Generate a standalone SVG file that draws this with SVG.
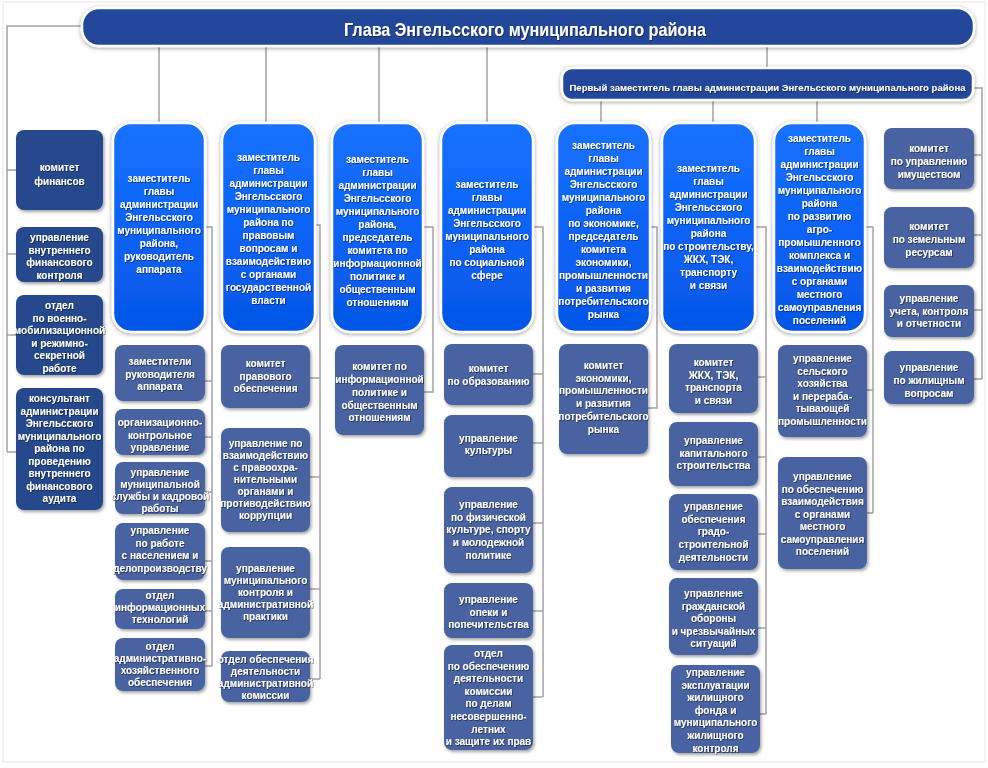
<svg xmlns="http://www.w3.org/2000/svg" width="988" height="768" viewBox="0 0 988 768">
<defs>
<linearGradient id="gBlue" x1="0" y1="0" x2="0" y2="1">
<stop offset="0" stop-color="#1a72ff"/>
<stop offset="0.5" stop-color="#0a63f6"/>
<stop offset="1" stop-color="#0556e6"/>
</linearGradient>
<filter id="sh" x="-20%" y="-20%" width="140%" height="140%">
<feDropShadow dx="1.5" dy="2" stdDeviation="1.8" flood-color="#000" flood-opacity="0.35"/>
</filter>
<filter id="glow" x="-20%" y="-20%" width="140%" height="140%">
<feDropShadow dx="0" dy="1" stdDeviation="2" flood-color="#000" flood-opacity="0.4"/>
</filter>
<filter id="ts" x="-10%" y="-10%" width="120%" height="130%">
<feDropShadow dx="0.8" dy="0.8" stdDeviation="0.6" flood-color="#000" flood-opacity="0.55"/>
</filter>
</defs>
<style>
.frame{fill:#ffffff;stroke:#e8e8e8;stroke-width:1}
.con{fill:none;stroke:#a3a3a3;stroke-width:1.5}
.head{fill:#21479b;stroke:#ffffff;stroke-width:2.5;filter:url(#glow)}
.dep{fill:url(#gBlue);stroke:#ffffff;stroke-width:2.5;filter:url(#glow)}
.sub{fill:#4a64a2;filter:url(#sh)}
.dark{fill:#26498e;filter:url(#sh)}
text{font-family:"Liberation Sans",Arial,sans-serif;font-weight:bold;fill:#ffffff;text-anchor:middle;filter:url(#ts)}
.t{font-size:10px}
.title{font-size:19px}
.fd{font-size:9.6px}
</style>
<rect class="frame" x="3" y="2" width="982" height="760"/>

<g id="connectors">
<path class="con" d="M82,26 H7 V452 M7,170 H16 M7,254 H16 M7,335 H16 M7,452 H16"/>
<path class="con" d="M159,46 V123 M266,46 V123 M379,46 V123 M487,46 V123 M767,46 V68"/>
<path class="con" d="M601,100 V123 M713,100 V123 M817,100 V123"/>
<path class="con" d="M973,88 H982 V379 M982,155 H974 M982,235 H974 M982,310 H974 M982,379 H974"/>
<path class="con" d="M205,227 H212 V666 M212,381 H205 M212,437 H205 M212,492 H205 M212,561 H205 M212,611 H205 M212,666 H205"/>
<path class="con" d="M315,225 H320 V679 M320,378 H310 M320,477 H310 M320,589 H310 M320,679 H310"/>
<path class="con" d="M423,227 H433 V392 H424"/>
<path class="con" d="M533,227 H543 V697 M543,374 H533 M543,443 H533 M543,523 H533 M543,611 H533 M543,697 H533"/>
<path class="con" d="M650,227 H657 V408 H648"/>
<path class="con" d="M755,227 H766 V714 M766,377 H758 M766,457 H758 M766,534 H758 M766,628 H758 M766,714 H760"/>
<path class="con" d="M865,227 H873 V513 M873,390 H867 M873,513 H867"/>
</g>

<g id="head">
<rect class="head" x="82" y="8" width="892" height="38" rx="17"/>
<text class="title" x="525" y="36" textLength="362" lengthAdjust="spacingAndGlyphs">Глава Энгельсского муниципального района</text>
</g>

<g id="first-deputy">
<rect class="head" x="562" y="68" width="411" height="32" rx="10"/>
<text class="fd" x="767.5" y="91" textLength="396" lengthAdjust="spacingAndGlyphs">Первый заместитель главы администрации Энгельсского муниципального района</text>
</g>

<!-- deputies -->
<g id="dep1">
<rect class="dep" x="113" y="123" width="92" height="209" rx="18"/>
<text class="t"><tspan x="159" y="182">заместитель</tspan><tspan x="159" y="195">главы</tspan><tspan x="159" y="208">администрации</tspan><tspan x="159" y="221">Энгельсского</tspan><tspan x="159" y="234">муниципального</tspan><tspan x="159" y="247">района,</tspan><tspan x="159" y="260">руководитель</tspan><tspan x="159" y="273">аппарата</tspan></text>
</g>
<g id="dep2">
<rect class="dep" x="222" y="123" width="93" height="209" rx="18"/>
<text class="t"><tspan x="268.5" y="161">заместитель</tspan><tspan x="268.5" y="174">главы</tspan><tspan x="268.5" y="187">администрации</tspan><tspan x="268.5" y="200">Энгельсского</tspan><tspan x="268.5" y="213">муниципального</tspan><tspan x="268.5" y="226">района по</tspan><tspan x="268.5" y="239">правовым</tspan><tspan x="268.5" y="252">вопросам и</tspan><tspan x="268.5" y="265">взаимодействию</tspan><tspan x="268.5" y="278">с органами</tspan><tspan x="268.5" y="291">государственной</tspan><tspan x="268.5" y="304">власти</tspan></text>
</g>
<g id="dep3">
<rect class="dep" x="332" y="123" width="91" height="209" rx="18"/>
<text class="t"><tspan x="377.5" y="163">заместитель</tspan><tspan x="377.5" y="176">главы</tspan><tspan x="377.5" y="189">администрации</tspan><tspan x="377.5" y="202">Энгельсского</tspan><tspan x="377.5" y="215">муниципального</tspan><tspan x="377.5" y="228">района,</tspan><tspan x="377.5" y="241">председатель</tspan><tspan x="377.5" y="254">комитета по</tspan><tspan x="377.5" y="267">информационной</tspan><tspan x="377.5" y="280">политике и</tspan><tspan x="377.5" y="293">общественным</tspan><tspan x="377.5" y="306">отношениям</tspan></text>
</g>
<g id="dep4">
<rect class="dep" x="441" y="123" width="92" height="209" rx="18"/>
<text class="t"><tspan x="487" y="188">заместитель</tspan><tspan x="487" y="201">главы</tspan><tspan x="487" y="214">администрации</tspan><tspan x="487" y="227">Энгельсского</tspan><tspan x="487" y="240">муниципального</tspan><tspan x="487" y="253">района</tspan><tspan x="487" y="266">по социальной</tspan><tspan x="487" y="279">сфере</tspan></text>
</g>
<g id="dep5">
<rect class="dep" x="557" y="123" width="93" height="209" rx="18"/>
<text class="t"><tspan x="603.5" y="149">заместитель</tspan><tspan x="603.5" y="162">главы</tspan><tspan x="603.5" y="175">администрации</tspan><tspan x="603.5" y="188">Энгельсского</tspan><tspan x="603.5" y="201">муниципального</tspan><tspan x="603.5" y="214">района</tspan><tspan x="603.5" y="227">по экономике,</tspan><tspan x="603.5" y="240">председатель</tspan><tspan x="603.5" y="253">комитета</tspan><tspan x="603.5" y="266">экономики,</tspan><tspan x="603.5" y="279">промышленности</tspan><tspan x="603.5" y="292">и развития</tspan><tspan x="603.5" y="305">потребительского</tspan><tspan x="603.5" y="318">рынка</tspan></text>
</g>
<g id="dep6">
<rect class="dep" x="662" y="123" width="93" height="209" rx="18"/>
<text class="t"><tspan x="708.5" y="172">заместитель</tspan><tspan x="708.5" y="185">главы</tspan><tspan x="708.5" y="198">администрации</tspan><tspan x="708.5" y="211">Энгельсского</tspan><tspan x="708.5" y="224">муниципального</tspan><tspan x="708.5" y="237">района</tspan><tspan x="708.5" y="250">по строительству,</tspan><tspan x="708.5" y="263">ЖКХ, ТЭК,</tspan><tspan x="708.5" y="276">транспорту</tspan><tspan x="708.5" y="289">и связи</tspan></text>
</g>
<g id="dep7">
<rect class="dep" x="774" y="123" width="91" height="209" rx="18"/>
<text class="t"><tspan x="819.5" y="142">заместитель</tspan><tspan x="819.5" y="155">главы</tspan><tspan x="819.5" y="168">администрации</tspan><tspan x="819.5" y="181">Энгельсского</tspan><tspan x="819.5" y="194">муниципального</tspan><tspan x="819.5" y="207">района</tspan><tspan x="819.5" y="220">по развитию</tspan><tspan x="819.5" y="233">агро-</tspan><tspan x="819.5" y="246">промышленного</tspan><tspan x="819.5" y="259">комплекса и</tspan><tspan x="819.5" y="272">взаимодействию</tspan><tspan x="819.5" y="285">с органами</tspan><tspan x="819.5" y="298">местного</tspan><tspan x="819.5" y="311">самоуправления</tspan><tspan x="819.5" y="324">поселений</tspan></text>
</g>

<!-- left column -->
<g id="l1">
<rect class="dark" x="16" y="130" width="87" height="80" rx="8"/>
<text class="t"><tspan x="59.5" y="171">комитет</tspan><tspan x="59.5" y="185">финансов</tspan></text>
</g>
<g id="l2">
<rect class="dark" x="16" y="227" width="87" height="55" rx="8"/>
<text class="t"><tspan x="59.5" y="241">управление</tspan><tspan x="59.5" y="253.5">внутреннего</tspan><tspan x="59.5" y="266">финансового</tspan><tspan x="59.5" y="278.5">контроля</tspan></text>
</g>
<g id="l3">
<rect class="dark" x="16" y="295" width="87" height="80" rx="8"/>
<text class="t"><tspan x="59.5" y="309">отдел</tspan><tspan x="59.5" y="321.5">по военно-</tspan><tspan x="59.5" y="334">мобилизационной</tspan><tspan x="59.5" y="346.5">и режимно-</tspan><tspan x="59.5" y="359">секретной</tspan><tspan x="59.5" y="371.5">работе</tspan></text>
</g>
<g id="l4">
<rect class="dark" x="16" y="388" width="87" height="122" rx="8"/>
<text class="t"><tspan x="59.5" y="402">консультант</tspan><tspan x="59.5" y="414.5">администрации</tspan><tspan x="59.5" y="427">Энгельсского</tspan><tspan x="59.5" y="439.5">муниципального</tspan><tspan x="59.5" y="452">района по</tspan><tspan x="59.5" y="464.5">проведению</tspan><tspan x="59.5" y="477">внутреннего</tspan><tspan x="59.5" y="489.5">финансового</tspan><tspan x="59.5" y="502">аудита</tspan></text>
</g>

<!-- column 1 subs -->
<g id="c1a">
<rect class="sub" x="115" y="345" width="90" height="56" rx="8"/>
<text class="t"><tspan x="160" y="365">заместители</tspan><tspan x="160" y="377.5">руководителя</tspan><tspan x="160" y="390">аппарата</tspan></text>
</g>
<g id="c1b">
<rect class="sub" x="115" y="409" width="90" height="46" rx="8"/>
<text class="t"><tspan x="160" y="426">организационно-</tspan><tspan x="160" y="438.5">контрольное</tspan><tspan x="160" y="451">управление</tspan></text>
</g>
<g id="c1c">
<rect class="sub" x="115" y="462" width="90" height="52" rx="8"/>
<text class="t"><tspan x="160" y="476">управление</tspan><tspan x="160" y="488">муниципальной</tspan><tspan x="160" y="500">службы и кадровой</tspan><tspan x="160" y="512">работы</tspan></text>
</g>
<g id="c1d">
<rect class="sub" x="115" y="523" width="90" height="57" rx="8"/>
<text class="t"><tspan x="160" y="534">управление</tspan><tspan x="160" y="546.5">по работе</tspan><tspan x="160" y="559">с населением и</tspan><tspan x="160" y="571.5">делопроизводству</tspan></text>
</g>
<g id="c1e">
<rect class="sub" x="115" y="589" width="90" height="40" rx="8"/>
<text class="t"><tspan x="160" y="599">отдел</tspan><tspan x="160" y="611">информационных</tspan><tspan x="160" y="623">технологий</tspan></text>
</g>
<g id="c1f">
<rect class="sub" x="115" y="638" width="90" height="53" rx="8"/>
<text class="t"><tspan x="160" y="650">отдел</tspan><tspan x="160" y="662">административно-</tspan><tspan x="160" y="674">хозяйственного</tspan><tspan x="160" y="686">обеспечения</tspan></text>
</g>

<!-- column 2 subs -->
<g id="c2a">
<rect class="sub" x="221" y="345" width="89" height="63" rx="8"/>
<text class="t"><tspan x="265.5" y="367">комитет</tspan><tspan x="265.5" y="379.5">правового</tspan><tspan x="265.5" y="392">обеспечения</tspan></text>
</g>
<g id="c2b">
<rect class="sub" x="221" y="428" width="89" height="104" rx="8"/>
<text class="t"><tspan x="265.5" y="447">управление по</tspan><tspan x="265.5" y="459">взаимодействию</tspan><tspan x="265.5" y="471">с правоохра-</tspan><tspan x="265.5" y="483">нительными</tspan><tspan x="265.5" y="495">органами и</tspan><tspan x="265.5" y="507">противодействию</tspan><tspan x="265.5" y="519">коррупции</tspan></text>
</g>
<g id="c2c">
<rect class="sub" x="221" y="547" width="89" height="91" rx="8"/>
<text class="t"><tspan x="265.5" y="572">управление</tspan><tspan x="265.5" y="584">муниципального</tspan><tspan x="265.5" y="596">контроля и</tspan><tspan x="265.5" y="608">административной</tspan><tspan x="265.5" y="620">практики</tspan></text>
</g>
<g id="c2d">
<rect class="sub" x="221" y="651" width="89" height="51" rx="8"/>
<text class="t"><tspan x="265.5" y="663">отдел обеспечения</tspan><tspan x="265.5" y="675">деятельности</tspan><tspan x="265.5" y="687">административной</tspan><tspan x="265.5" y="699">комиссии</tspan></text>
</g>

<!-- column 3 sub -->
<g id="c3a">
<rect class="sub" x="335" y="345" width="89" height="90" rx="8"/>
<text class="t"><tspan x="379.5" y="370">комитет по</tspan><tspan x="379.5" y="383">информационной</tspan><tspan x="379.5" y="396">политике и</tspan><tspan x="379.5" y="408.5">общественным</tspan><tspan x="379.5" y="421">отношениям</tspan></text>
</g>

<!-- column 4 subs -->
<g id="c4a">
<rect class="sub" x="444" y="344" width="89" height="61" rx="8"/>
<text class="t"><tspan x="488.5" y="372">комитет</tspan><tspan x="488.5" y="385">по образованию</tspan></text>
</g>
<g id="c4b">
<rect class="sub" x="444" y="415" width="89" height="62" rx="8"/>
<text class="t"><tspan x="488.5" y="442">управление</tspan><tspan x="488.5" y="454">культуры</tspan></text>
</g>
<g id="c4c">
<rect class="sub" x="444" y="487" width="89" height="86" rx="8"/>
<text class="t"><tspan x="488.5" y="508">управление</tspan><tspan x="488.5" y="520.7">по физической</tspan><tspan x="488.5" y="533.4">культуре, спорту</tspan><tspan x="488.5" y="546.1">и молодежной</tspan><tspan x="488.5" y="558.8">политике</tspan></text>
</g>
<g id="c4d">
<rect class="sub" x="444" y="583" width="89" height="55" rx="8"/>
<text class="t"><tspan x="488.5" y="603">управление</tspan><tspan x="488.5" y="615.5">опеки и</tspan><tspan x="488.5" y="628">попечительства</tspan></text>
</g>
<g id="c4e">
<rect class="sub" x="444" y="645" width="89" height="105" rx="8"/>
<text class="t"><tspan x="488.5" y="657">отдел</tspan><tspan x="488.5" y="669.6">по обеспечению</tspan><tspan x="488.5" y="682.2">деятельности</tspan><tspan x="488.5" y="694.8">комиссии</tspan><tspan x="488.5" y="707.4">по делам</tspan><tspan x="488.5" y="720">несовершенно-</tspan><tspan x="488.5" y="732.6">летних</tspan><tspan x="488.5" y="745.2">и защите их прав</tspan></text>
</g>

<!-- column 5 sub -->
<g id="c5a">
<rect class="sub" x="559" y="344" width="89" height="110" rx="8"/>
<text class="t"><tspan x="603.5" y="369">комитет</tspan><tspan x="603.5" y="381.7">экономики,</tspan><tspan x="603.5" y="394.4">промышленности</tspan><tspan x="603.5" y="407.1">и развития</tspan><tspan x="603.5" y="419.8">потребительского</tspan><tspan x="603.5" y="432.5">рынка</tspan></text>
</g>

<!-- column 6 subs -->
<g id="c6a">
<rect class="sub" x="669" y="344" width="89" height="69" rx="8"/>
<text class="t"><tspan x="713.5" y="366">комитет</tspan><tspan x="713.5" y="378.6">ЖКХ, ТЭК,</tspan><tspan x="713.5" y="391.2">транспорта</tspan><tspan x="713.5" y="403.8">и связи</tspan></text>
</g>
<g id="c6b">
<rect class="sub" x="669" y="422" width="89" height="64" rx="8"/>
<text class="t"><tspan x="713.5" y="444">управление</tspan><tspan x="713.5" y="456.5">капитального</tspan><tspan x="713.5" y="469">строительства</tspan></text>
</g>
<g id="c6c">
<rect class="sub" x="669" y="494" width="89" height="76" rx="8"/>
<text class="t"><tspan x="713.5" y="510">управление</tspan><tspan x="713.5" y="522.7">обеспечения</tspan><tspan x="713.5" y="535.4">градо-</tspan><tspan x="713.5" y="548.1">строительной</tspan><tspan x="713.5" y="560.8">деятельности</tspan></text>
</g>
<g id="c6d">
<rect class="sub" x="669" y="578" width="89" height="77" rx="8"/>
<text class="t"><tspan x="713.5" y="597">управление</tspan><tspan x="713.5" y="609.6">гражданской</tspan><tspan x="713.5" y="622.2">обороны</tspan><tspan x="713.5" y="634.8">и чрезвычайных</tspan><tspan x="713.5" y="647.4">ситуаций</tspan></text>
</g>
<g id="c6e">
<rect class="sub" x="671" y="665" width="89" height="88" rx="8"/>
<text class="t"><tspan x="715.5" y="676">управление</tspan><tspan x="715.5" y="688.6">эксплуатации</tspan><tspan x="715.5" y="701.2">жилищного</tspan><tspan x="715.5" y="713.8">фонда и</tspan><tspan x="715.5" y="726.4">муниципального</tspan><tspan x="715.5" y="739">жилищного</tspan><tspan x="715.5" y="751.6">контроля</tspan></text>
</g>

<!-- column 7 subs -->
<g id="c7a">
<rect class="sub" x="778" y="345" width="89" height="92" rx="8"/>
<text class="t"><tspan x="822.5" y="362">управление</tspan><tspan x="822.5" y="374.6">сельского</tspan><tspan x="822.5" y="387.2">хозяйства</tspan><tspan x="822.5" y="399.8">и перераба-</tspan><tspan x="822.5" y="412.4">тывающей</tspan><tspan x="822.5" y="425">промышленности</tspan></text>
</g>
<g id="c7b">
<rect class="sub" x="778" y="457" width="89" height="112" rx="8"/>
<text class="t"><tspan x="822.5" y="480">управление</tspan><tspan x="822.5" y="492.5">по обеспечению</tspan><tspan x="822.5" y="505">взаимодействия</tspan><tspan x="822.5" y="517.5">с органами</tspan><tspan x="822.5" y="530">местного</tspan><tspan x="822.5" y="542.5">самоуправления</tspan><tspan x="822.5" y="555">поселений</tspan></text>
</g>

<!-- right column -->
<g id="r1">
<rect class="sub" x="884" y="128" width="90" height="61" rx="8"/>
<text class="t"><tspan x="929" y="152">комитет</tspan><tspan x="929" y="165">по управлению</tspan><tspan x="929" y="178">имуществом</tspan></text>
</g>
<g id="r2">
<rect class="sub" x="884" y="207" width="90" height="61" rx="8"/>
<text class="t"><tspan x="929" y="230">комитет</tspan><tspan x="929" y="243">по земельным</tspan><tspan x="929" y="256">ресурсам</tspan></text>
</g>
<g id="r3">
<rect class="sub" x="884" y="285" width="90" height="52" rx="8"/>
<text class="t"><tspan x="929" y="302">управление</tspan><tspan x="929" y="314.5">учета, контроля</tspan><tspan x="929" y="327">и отчетности</tspan></text>
</g>
<g id="r4">
<rect class="sub" x="884" y="351" width="90" height="53" rx="8"/>
<text class="t"><tspan x="929" y="371">управление</tspan><tspan x="929" y="384">по жилищным</tspan><tspan x="929" y="397">вопросам</tspan></text>
</g>
</svg>
